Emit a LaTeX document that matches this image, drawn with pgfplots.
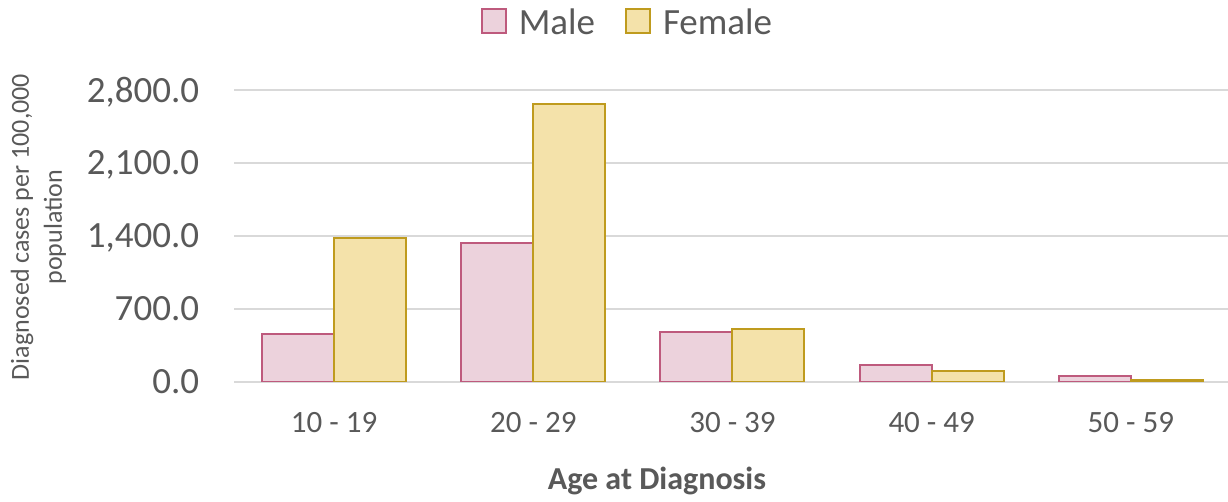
\documentclass[border=0pt]{standalone}
\usepackage{pgfplots}
\pgfplotsset{compat=1.18}
\usepackage{fontspec}
\setmainfont{Carlito}
\definecolor{txt}{HTML}{595959}
\definecolor{gridc}{HTML}{D9D9D9}
\definecolor{mfill}{RGB}{236,210,220}
\definecolor{mdraw}{RGB}{190,90,125}
\definecolor{ffill}{RGB}{244,226,170}
\definecolor{fdraw}{RGB}{191,155,30}
\begin{document}
\begin{tikzpicture}
\path[use as bounding box] (0,0) rectangle (614pt,251pt);
\begin{axis}[
  at={(117.25pt,60pt)}, anchor=south west,
  scale only axis, width=498pt, height=146pt,
  xmin=-0.5, xmax=4.5, ymin=0, ymax=2800,
  ytick={0,700,1400,2100,2800},
  xtick={0,1,2,3,4},
  xticklabels={10 - 19,20 - 29,30 - 39,40 - 49,50 - 59},
  axis line style={draw=none},
  major tick length=0pt,
  ymajorgrids, grid style={color=gridc, line width=1pt},
  yticklabel style={font=\fontsize{18.5}{20}\selectfont, text=txt, anchor=east, inner sep=0pt, xshift=-17.5pt, text depth=0pt},
  xticklabel style={font=\fontsize{15.5}{18}\selectfont, text=txt, anchor=center, inner sep=0pt, yshift=-20.5pt},
  /pgf/number format/.cd, fixed, fixed zerofill, precision=1, 1000 sep={,}, assume math mode=true,
  /pgfplots/.cd,
  ybar, bar width=36pt,
  legend style={at={(0.3955,1.228)}, anchor=center, draw=none, fill=none, legend columns=2,
    font=\fontsize{18.5}{20}\selectfont, text=txt,
    /tikz/every odd column/.append style={column sep=4pt},
    /tikz/every even column/.append style={column sep=13pt}},
  legend image code/.code={\draw[#1, line width=1pt] (0pt,-5pt) rectangle (12pt,7pt);},
]
\addplot[fill=mfill, draw=mdraw, line width=1pt, bar shift=-18pt] coordinates {(0,457) (1,1333) (2,480) (3,166) (4,60)};
\addplot[fill=ffill, draw=fdraw, line width=1pt, bar shift=18pt] coordinates {(0,1378) (1,2666) (2,505) (3,105) (4,22)};
\legend{Male,Female}
\end{axis}
\node[font=\fontsize{16}{19}\bfseries, text=txt] at (328.5pt,10.5pt) {Age at Diagnosis};
\node[rotate=90, align=center, font=\fontsize{13}{16.5}\selectfont, text=txt] at (19.25pt,137.5pt) {Diagnosed cases per 100,000\\population};
\end{tikzpicture}
\end{document}
